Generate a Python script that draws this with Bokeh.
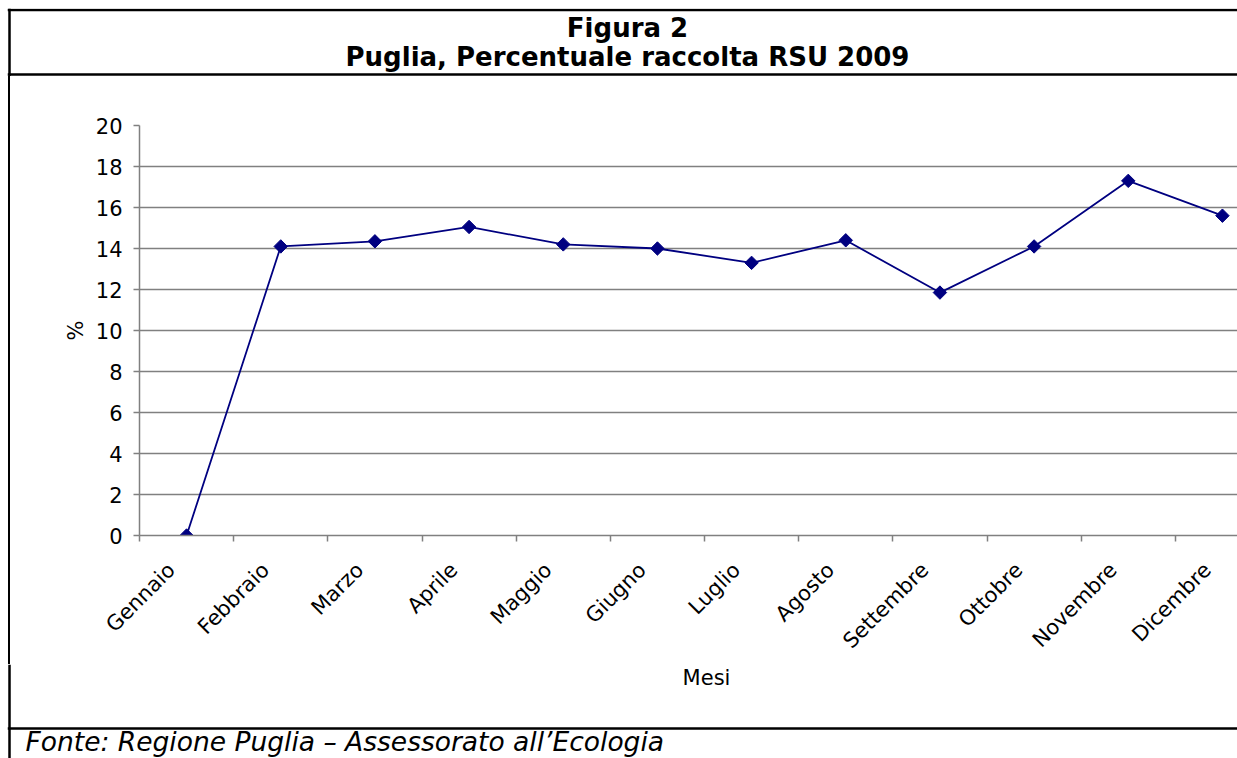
import math
from bokeh.plotting import figure
from bokeh.layouts import column, row
from bokeh.models import Range1d, FixedTicker, Label, Span, Div
from bokeh.embed import file_html
from bokeh.resources import INLINE

# ---------------- data ----------------
months = ["Gennaio", "Febbraio", "Marzo", "Aprile", "Maggio", "Giugno",
          "Luglio", "Agosto", "Settembre", "Ottobre", "Novembre", "Dicembre"]
values = [0.0, 14.1, 14.35, 15.05, 14.2, 14.0, 13.3, 14.4, 11.85, 14.1, 17.3, 15.6]
y_ticks = [0, 2, 4, 6, 8, 10, 12, 14, 16, 18, 20]
title_line1 = "Figura 2"
title_line2 = "Puglia, Percentuale raccolta RSU 2009"
x_label = "Mesi"
y_label = "%"
source_note = "Fonte: Regione Puglia \u2013 Assessorato all\u2019Ecologia"

# ---------------- style ----------------
FONT = "DejaVu Sans"
NAVY = "#000080"
GRAY = "#808080"
W = 1237
TOP_H = 76            # title band height
FOOT_TOP = 664        # where the footer band starts
CHART_H = FOOT_TOP - TOP_H
FOOT_H = 758 - FOOT_TOP
STRIP_W = 11
BORDER_X = 9
BORDER_W = 2.5


def band(width, height, left=0, top=0):
    """A plain figure whose data coordinates equal pixel coordinates (y from top)."""
    f = figure(width=width, height=height, output_backend="svg", toolbar_location=None,
               x_range=Range1d(left, width), y_range=Range1d(height, top),
               x_axis_type=None, y_axis_type=None,
               min_border_left=left, min_border_right=0,
               min_border_top=top, min_border_bottom=0)
    f.grid.visible = False
    f.outline_line_color = None
    f.background_fill_color = "white"
    f.border_fill_color = "white"
    return f


def vline(f, x):
    f.add_layout(Span(location=x, dimension="height", line_color="black",
                      line_width=BORDER_W))


def hline(f, y):
    f.add_layout(Span(location=y, dimension="width", line_color="black",
                      line_width=BORDER_W))


def text(f, x, y, s, size, style="normal", align="center"):
    f.add_layout(Label(x=x, y=y, text=s, text_align=align, text_baseline="alphabetic",
                       text_font=FONT, text_font_size=size, text_font_style=style,
                       text_color="black"))


# ---------------- title band ----------------
p_top = band(W, TOP_H, left=7, top=8)
vline(p_top, BORDER_X)
hline(p_top, 9.5)
hline(p_top, 74)
text(p_top, 627, 27.5, title_line1, "26px", "bold")
text(p_top, 627, 56.5, title_line2, "26px", "bold")

# ---------------- left border strip ----------------
lo = BORDER_X - BORDER_W / 2
hi = BORDER_X + BORDER_W / 2
strip = Div(text="", width=STRIP_W, height=CHART_H, margin=0,
            styles={"background": f"linear-gradient(90deg, #ffffff {lo}px, #000000 {lo}px, "
                                  f"#000000 {hi}px, #ffffff {hi}px)"})

# ---------------- chart ----------------
xs = list(range(len(months)))
label_pos = [i - 0.16 for i in xs]

p = figure(width=W - STRIP_W, height=CHART_H, output_backend="svg", toolbar_location=None,
           x_range=Range1d(-0.5, 11.16), y_range=Range1d(0, 20),
           min_border_left=139 - STRIP_W, min_border_right=0,
           min_border_top=125 - TOP_H, min_border_bottom=CHART_H - (535 - TOP_H))
p.outline_line_color = None
p.background_fill_color = "white"
p.border_fill_color = "white"

p.line(xs, values, line_color=NAVY, line_width=1.8)
p.scatter(xs, values, marker="square", angle=math.pi / 4, size=9.5,
          fill_color=NAVY, line_color=NAVY)

xa = p.xaxis[0]
xa.ticker = FixedTicker(ticks=label_pos, minor_ticks=[i - 0.5 for i in xs])
xa.major_label_overrides = {pos: m for pos, m in zip(label_pos, months)}
xa.major_label_orientation = math.pi / 4
xa.major_tick_out = 0
xa.major_tick_in = 0
xa.minor_tick_out = 6
xa.minor_tick_in = 0
xa.minor_tick_line_color = GRAY
xa.minor_tick_line_width = 1.5
xa.axis_line_color = GRAY
xa.axis_line_width = 1.5
xa.major_label_text_font = FONT
xa.major_label_text_font_size = "21px"
xa.major_label_text_color = "black"
xa.major_label_standoff = 25

ya = p.yaxis[0]
ya.ticker = FixedTicker(ticks=y_ticks)
ya.major_tick_out = 6
ya.major_tick_in = 0
ya.major_tick_line_color = GRAY
ya.major_tick_line_width = 1.5
ya.minor_tick_line_color = None
ya.axis_line_color = GRAY
ya.axis_line_width = 1.5
ya.major_label_text_font = FONT
ya.major_label_text_font_size = "21px"
ya.major_label_text_color = "black"
ya.major_label_standoff = 11
ya.axis_label = y_label
ya.axis_label_text_font = FONT
ya.axis_label_text_font_size = "21px"
ya.axis_label_text_font_style = "normal"
ya.axis_label_text_color = "black"
ya.axis_label_standoff = 5

p.xgrid.visible = False
p.ygrid.ticker = FixedTicker(ticks=y_ticks)
p.ygrid.grid_line_color = GRAY
p.ygrid.grid_line_width = 1.5

# ---------------- footer band (x-axis title + source) ----------------
p_foot = band(W, FOOT_H, left=7)
vline(p_foot, BORDER_X)
hline(p_foot, 728 - FOOT_TOP)
text(p_foot, 706, 677 - FOOT_TOP, x_label, "21px")
text(p_foot, 25, 741 - FOOT_TOP, source_note, "26.5px", "italic", "left")

layout = column(p_top, row(strip, p, spacing=0), p_foot, spacing=0)

open("out.html", "w").write(file_html(layout, INLINE))
